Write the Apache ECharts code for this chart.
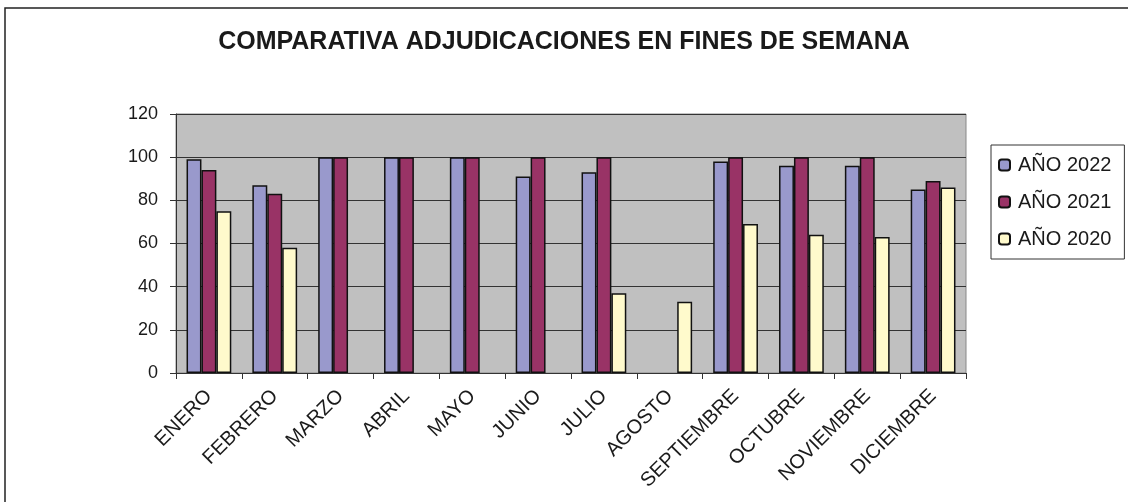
<!DOCTYPE html>
<html>
<head>
<meta charset="utf-8">
<script src="https://cdn.jsdelivr.net/npm/echarts@6/dist/echarts.min.js"></script>
<style>
  html, body { margin: 0; padding: 0; background: #fff; }
  #chart { width: 1128px; height: 502px; }
</style>
</head>
<body>
<div id="chart"></div>
<script>
// datos
const meses = ['ENERO', 'FEBRERO', 'MARZO', 'ABRIL', 'MAYO', 'JUNIO', 'JULIO', 'AGOSTO', 'SEPTIEMBRE', 'OCTUBRE', 'NOVIEMBRE', 'DICIEMBRE']
const anio2022 = [99, 87, 100, 100, 100, 91, 93, null, 98, 96, 96, 85]
const anio2021 = [94, 83, 100, 100, 100, 100, 100, null, 100, 100, 100, 89]
const anio2020 = [75, 58, null, null, null, null, 37, 33, 69, 64, 63, 86]
const yTicks = [0, 20, 40, 60, 80, 100, 120]

const fuente = '"Liberation Sans", Arial, sans-serif'

function serie(nombre, datos, color) {
  return {
    name: nombre,
    type: 'bar',
    data: datos,
    barGap: '0%',
    barCategoryGap: '32%',
    itemStyle: { color: color, borderColor: '#111', borderWidth: 1.5 }
  }
}

const chart = echarts.init(document.getElementById('chart'))
chart.setOption({
  animation: false,
  backgroundColor: '#fff',
  textStyle: { fontFamily: fuente },
  title: {
    text: 'COMPARATIVA ADJUDICACIONES EN FINES DE SEMANA',
    left: 'center',
    top: 25,
    textStyle: { fontFamily: fuente, fontSize: 25, fontWeight: 'bold', color: '#1a1a1a' }
  },
  graphic: [{
    type: 'rect',
    shape: { x: 5, y: 8, width: 1140, height: 520 },
    style: { fill: null, stroke: '#222', lineWidth: 1.5 },
    silent: true
  }],
  legend: {
    orient: 'vertical',
    left: 991,
    top: 145,
    padding: [10, 13, 10, 7],
    itemWidth: 11,
    itemHeight: 11,
    itemGap: 17,
    borderColor: '#333',
    borderWidth: 1,
    textStyle: { fontFamily: fuente, fontSize: 20, color: '#1a1a1a', lineHeight: 20, padding: [0, 0, 0, 3] },
    data: ['AÑO 2022', 'AÑO 2021', 'AÑO 2020']
  },
  grid: {
    left: 176,
    right: 162,
    top: 114,
    bottom: 129,
    show: true,
    backgroundColor: '#C0C0C0',
    borderColor: '#888',
    borderWidth: 1
  },
  xAxis: {
    type: 'category',
    data: meses,
    axisLine: { lineStyle: { color: '#333', width: 1 } },
    axisTick: { show: true, length: 6, lineStyle: { color: '#333' } },
    axisLabel: { rotate: 45, margin: 20, fontSize: 20, color: '#1a1a1a', fontFamily: fuente, interval: 0 }
  },
  yAxis: {
    type: 'value',
    min: yTicks[0],
    max: yTicks[yTicks.length - 1],
    interval: 20,
    axisLine: { show: true, lineStyle: { color: '#333', width: 1 } },
    axisTick: { show: true, length: 6, lineStyle: { color: '#333' } },
    axisLabel: { margin: 18, fontSize: 18, color: '#1a1a1a', fontFamily: fuente },
    splitLine: { lineStyle: { color: '#333', width: 1 } }
  },
  series: [
    serie('AÑO 2022', anio2022, '#9999CC'),
    serie('AÑO 2021', anio2021, '#993366'),
    serie('AÑO 2020', anio2020, '#FFFACC')
  ]
})
</script>
</body>
</html>
